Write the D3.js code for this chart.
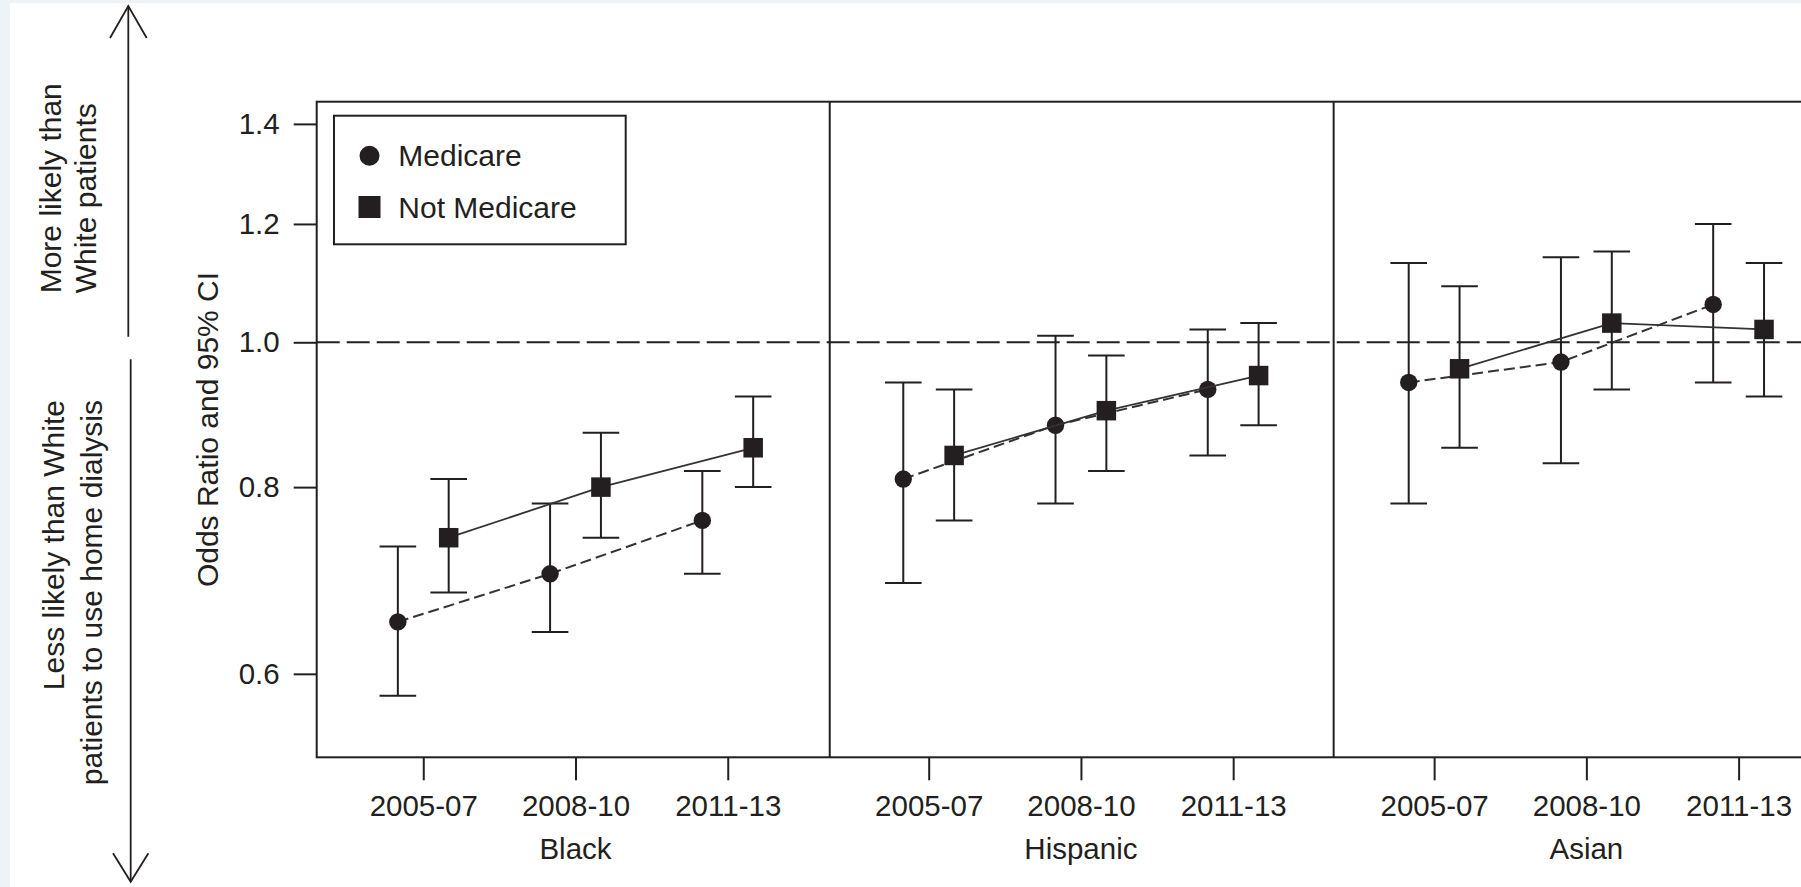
<!DOCTYPE html>
<html>
<head>
<meta charset="utf-8">
<script src="https://cdn.jsdelivr.net/npm/d3@7"></script>
<style>
	body { margin: 0; background: #ffffff; }
	svg { display: block; font-family: "Liberation Sans", Arial, sans-serif; }
</style>
</head>
<body>
<div id="chart"></div>
<script>
// 1. Data
// ===========================
var races = ["Black", "Hispanic", "Asian"];
var periods = ["2005-07", "2008-10", "2011-13"];

// odds ratios and 95% CI, one row per race, one column per period
var medicareOR = [[0.65, 0.70, 0.76], [0.81, 0.88, 0.93], [0.94, 0.97, 1.06]];
var medicareLo = [[0.58, 0.64, 0.70], [0.69, 0.78, 0.84], [0.78, 0.83, 0.94]];
var medicareHi = [[0.73, 0.78, 0.82], [0.94, 1.01, 1.02], [1.13, 1.14, 1.20]];

var notMedicareOR = [[0.74, 0.80, 0.85], [0.84, 0.90, 0.95], [0.96, 1.03, 1.02]];
var notMedicareLo = [[0.68, 0.74, 0.80], [0.76, 0.82, 0.88], [0.85, 0.93, 0.92]];
var notMedicareHi = [[0.81, 0.87, 0.92], [0.93, 0.98, 1.03], [1.09, 1.15, 1.13]];

var legendLabels = ["Medicare", "Not Medicare"];
var yTicks = [0.6, 0.8, 1.0, 1.2, 1.4];

// 2. Canvas and scales
// ====================
var width = 1801;
var height = 887;
var ink = "#231f20";
var fontSize = 29.5;

var plotLeft = 316.7;
var plotTop = 101.7;
var plotBottom = 757.3;

// each race panel sits at an offset on one continuous x axis
var panelOffset = [0, 3.32, 6.64];
var dividers = [3.67, 6.98];
var seriesShift = 0.167;

var svg = d3
	.select("#chart")
	.append("svg")
	.attr("width", width)
	.attr("height", height);

// faint border left over from the source page
svg.append("rect").attr("x", 0).attr("y", 0).attr("width", width).attr("height", 3).attr("fill", "#eef3f7");
svg.append("rect").attr("x", 0).attr("y", 0).attr("width", 10).attr("height", height).attr("fill", "#eef3f7");

var xScale = d3.scaleLinear().domain([0.3, 10.35]).range([plotLeft, 1846.7]);
var yScale = d3.scaleLog().domain([0.5276, 1.4487]).range([plotBottom, plotTop]);

var series = [
	{ name: legendLabels[0], or: medicareOR, lo: medicareLo, hi: medicareHi, shift: -seriesShift, dash: "11,5", symbol: d3.symbolCircle, size: Math.PI * 8.7 * 8.7, lw: 2 },
	{ name: legendLabels[1], or: notMedicareOR, lo: notMedicareLo, hi: notMedicareHi, shift: seriesShift, dash: null, symbol: d3.symbolSquare, size: 19.5 * 19.5, lw: 1.8 }
];

// 3. Reference line at OR = 1
// ===========================
svg.append("line")
	.attr("x1", plotLeft)
	.attr("x2", width)
	.attr("y1", yScale(1))
	.attr("y2", yScale(1))
	.attr("stroke", ink)
	.attr("stroke-width", 2)
	.attr("stroke-dasharray", "23,7");

// 4. Error bars, connecting lines and markers
// ===========================================
var line = d3.line()
	.x(function(d) { return xScale(d.x); })
	.y(function(d) { return yScale(d.or); });

var capHalf = 18.3;

races.forEach(function(race, ri) {
	series.forEach(function(s) {
		var pts = periods.map(function(p, pi) {
			return { x: panelOffset[ri] + pi + 1 + s.shift, or: s.or[ri][pi], lo: s.lo[ri][pi], hi: s.hi[ri][pi] };
		});

		var g = svg.append("g").attr("class", "series");

		// confidence intervals
		var ci = g.selectAll(".ci").data(pts).enter().append("g").attr("class", "ci");
		ci.append("line")
			.attr("x1", function(d) { return xScale(d.x); })
			.attr("x2", function(d) { return xScale(d.x); })
			.attr("y1", function(d) { return yScale(d.lo); })
			.attr("y2", function(d) { return yScale(d.hi); });
		ci.append("line")
			.attr("x1", function(d) { return xScale(d.x) - capHalf; })
			.attr("x2", function(d) { return xScale(d.x) + capHalf; })
			.attr("y1", function(d) { return yScale(d.lo); })
			.attr("y2", function(d) { return yScale(d.lo); });
		ci.append("line")
			.attr("x1", function(d) { return xScale(d.x) - capHalf; })
			.attr("x2", function(d) { return xScale(d.x) + capHalf; })
			.attr("y1", function(d) { return yScale(d.hi); })
			.attr("y2", function(d) { return yScale(d.hi); });
		ci.selectAll("line").attr("stroke", ink).attr("stroke-width", 2);

		// trend line
		g.append("path")
			.datum(pts)
			.attr("d", line)
			.attr("fill", "none")
			.attr("stroke", "#333")
			.attr("stroke-width", s.lw)
			.attr("stroke-dasharray", s.dash);

		// markers
		g.selectAll(".pt")
			.data(pts)
			.enter()
			.append("path")
			.attr("class", "pt")
			.attr("transform", function(d) { return "translate(" + xScale(d.x) + "," + yScale(d.or) + ")"; })
			.attr("d", d3.symbol().type(s.symbol).size(s.size))
			.attr("fill", ink);
	});
});

// 5. Frame, panel dividers and axes
// =================================
svg.append("rect")
	.attr("x", plotLeft)
	.attr("y", plotTop)
	.attr("width", xScale(10.35) - plotLeft)
	.attr("height", plotBottom - plotTop)
	.attr("fill", "none")
	.attr("stroke", ink)
	.attr("stroke-width", 2);

svg.selectAll(".divider")
	.data(dividers)
	.enter()
	.append("line")
	.attr("class", "divider")
	.attr("x1", function(d) { return xScale(d); })
	.attr("x2", function(d) { return xScale(d); })
	.attr("y1", plotTop)
	.attr("y2", plotBottom)
	.attr("stroke", ink)
	.attr("stroke-width", 2);

// left axis
var yAxis = d3.axisLeft(yScale)
	.tickValues(yTicks)
	.tickFormat(d3.format(".1f"))
	.tickSize(23)
	.tickPadding(14);

var yG = svg.append("g")
	.attr("transform", "translate(" + plotLeft + ",0)")
	.call(yAxis);

// bottom axis, period labels repeated per panel
var xTickVals = [];
var xTickLabel = {};
races.forEach(function(race, ri) {
	periods.forEach(function(p, pi) {
		var v = panelOffset[ri] + pi + 1;
		xTickVals.push(v);
		xTickLabel[v] = p;
	});
});

var xAxis = d3.axisBottom(xScale)
	.tickValues(xTickVals)
	.tickFormat(function(d) { return xTickLabel[d]; })
	.tickSize(23)
	.tickPadding(14.7);

var xG = svg.append("g")
	.attr("transform", "translate(0," + plotBottom + ")")
	.call(xAxis);

[yG, xG].forEach(function(g) {
	g.select(".domain").remove();
	g.selectAll(".tick line").attr("stroke", ink).attr("stroke-width", 2);
	g.selectAll(".tick text")
		.attr("fill", ink)
		.style("font-size", fontSize + "px")
		.style("font-family", "'Liberation Sans', Arial, sans-serif");
});

// race names under each panel
svg.selectAll(".raceLabel")
	.data(races)
	.enter()
	.append("text")
	.attr("class", "raceLabel")
	.attr("x", function(d, i) { return xScale(panelOffset[i] + 2); })
	.attr("y", 859.3)
	.attr("text-anchor", "middle")
	.attr("fill", ink)
	.style("font-size", fontSize + "px")
	.text(function(d) { return d; });

// y axis title
svg.append("text")
	.attr("transform", "translate(218.3," + ((plotTop + plotBottom) / 2) + ")rotate(-90)")
	.attr("text-anchor", "middle")
	.attr("fill", ink)
	.style("font-size", "30px")
	.text("Odds Ratio and 95% CI");

// 6. Legend
// =========
var legend = svg.append("g").attr("class", "legend");
legend.append("rect")
	.attr("x", 334)
	.attr("y", 115.7)
	.attr("width", 291.7)
	.attr("height", 128.6)
	.attr("fill", "#ffffff")
	.attr("stroke", ink)
	.attr("stroke-width", 2);

var legendRows = [
	{ label: legendLabels[0], symbol: d3.symbolCircle, size: Math.PI * 100, cy: 155.7 },
	{ label: legendLabels[1], symbol: d3.symbolSquare, size: 22 * 22, cy: 207 }
];

var lItem = legend.selectAll(".item").data(legendRows).enter().append("g").attr("class", "item");
lItem.append("path")
	.attr("transform", function(d) { return "translate(369.5," + d.cy + ")"; })
	.attr("d", function(d) { return d3.symbol().type(d.symbol).size(d.size)(); })
	.attr("fill", ink);
lItem.append("text")
	.attr("x", 398.3)
	.attr("y", function(d) { return d.cy + 10.6; })
	.attr("fill", ink)
	.style("font-size", "30px")
	.text(function(d) { return d.label; });

// 7. Direction arrows on the far left
// ===================================
var arrows = svg.append("g")
	.attr("fill", "none")
	.attr("stroke", ink)
	.attr("stroke-width", 1.8);

arrows.append("line").attr("x1", 128.3).attr("x2", 128.3).attr("y1", 6).attr("y2", 336.7);
arrows.append("path").attr("d", "M110,38L128.3,6L146.7,38");
arrows.append("line").attr("x1", 130.7).attr("x2", 130.7).attr("y1", 359.3).attr("y2", 881.7);
arrows.append("path").attr("d", "M113,853.3L130.7,881.7L148.4,853.3");

var notes = [
	{ text: "More likely than", x: 60.5, y: 293.3, anchor: "start" },
	{ text: "White patients", x: 95.5, y: 293.3, anchor: "start" },
	{ text: "Less likely than White", x: 63.5, y: 400, anchor: "end" },
	{ text: "patients to use home dialysis", x: 102, y: 400, anchor: "end" }
];

svg.selectAll(".note")
	.data(notes)
	.enter()
	.append("text")
	.attr("class", "note")
	.attr("transform", function(d) { return "translate(" + d.x + "," + d.y + ")rotate(-90)"; })
	.attr("text-anchor", function(d) { return d.anchor; })
	.attr("fill", ink)
	.style("font-size", "30px")
	.text(function(d) { return d.text; });
</script>
</body>
</html>
